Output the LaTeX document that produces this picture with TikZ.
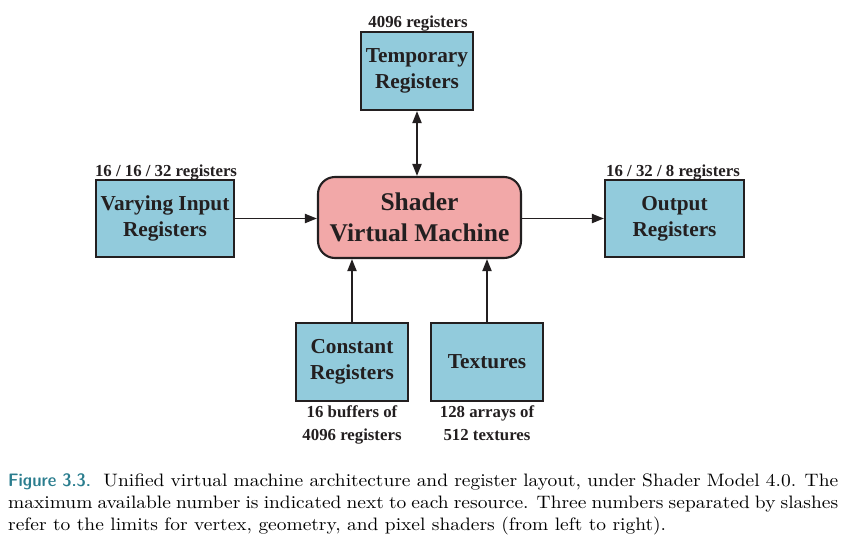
\documentclass[tikz,border=0pt]{standalone}
\usepackage{fontspec}
\setmainfont{lmroman10}[Extension=.otf,UprightFont=*-regular,BoldFont=*-bold,ItalicFont=*-italic,FakeStretch=1.08]
\newfontfamily\capsans{lmsansdemicond10}[Extension=.otf,UprightFont=*-regular,FakeStretch=1.08]
\newfontfamily\timesfont{Liberation Serif}
\usetikzlibrary{arrows.meta}
\definecolor{boxblue}{HTML}{92CBDC}
\definecolor{boxpink}{HTML}{F2A8A8}
\definecolor{figteal}{HTML}{2A7D8E}
\definecolor{inkdark}{HTML}{231F20}
\begin{document}
\begin{tikzpicture}[x=1pt,y=-1pt,
  res/.style={draw=inkdark,line width=2.1pt,fill=boxblue,minimum width=#1,minimum height=77pt,inner sep=0pt,align=center,
    font=\timesfont\bfseries\fontsize{21.3}{26}\selectfont,text=inkdark},
  res/.default=138pt,
  core/.style={draw=inkdark,line width=2.1pt,fill=boxpink,rounded corners=17pt,minimum width=203pt,minimum height=81pt,inner sep=0pt,align=center,
    font=\timesfont\bfseries\fontsize{25.5}{31}\selectfont,text=inkdark},
  note/.style={inner sep=0pt,align=center,font=\timesfont\bfseries\fontsize{16.8}{23}\selectfont,text=inkdark},
  tip/.style={-{Triangle[length=12pt,width=9pt]}},
  conn/.style={draw=inkdark,line width=1.9pt},
]
\useasboundingbox (0,0) rectangle (843,544);
\node[core] (svm) at (419.5,217.5) {Shader\\Virtual Machine};
\node[res=112pt,minimum height=78pt] (temp) at (417,71) {Temporary\\Registers};
\node[res] (vin) at (165,218.5) {Varying Input\\Registers};
\node[res=139pt] (out) at (674.5,218.5) {Output\\Registers};
\node[res=112pt,minimum height=78pt] (const) at (352,362) {Constant\\Registers};
\node[res=112pt,minimum height=78pt] (tex) at (487,362) {Textures};
\node[note,anchor=base] (ntemp) at (418,27) {4096 registers};
\node[note,anchor=base] (nvin) at (166,176) {16 / 16 / 32 registers};
\node[note,anchor=base] (nout) at (673,176) {16 / 32 / 8 registers};
\node[note,anchor=north] (nconst) at (352,405) {16 buffers of\\4096 registers};
\node[note,anchor=north] (ntex) at (487,405) {128 arrays of\\512 textures};
\draw[conn,{Triangle[length=12pt,width=9pt]}-{Triangle[length=12pt,width=9pt]}] (temp.south) -- (temp.south |- svm.north);
\draw[conn,tip] (vin.east) -- (vin.east -| svm.west);
\draw[conn,tip] (svm.east |- out.west) -- (out.west);
\draw[conn,tip] (const.north) -- (const.north |- svm.south);
\draw[conn,tip] (tex.north) -- (tex.north |- svm.south);
\node[anchor=north west,inner sep=0pt,text width=830pt,align=justify,font=\fontsize{18}{22}\selectfont] (cap) at (8,473)
{{\capsans\color{figteal}Figure 3.3.}\ \ Unified virtual machine architecture and register layout, under Shader Model 4.0. The\linebreak maximum available number is indicated next to each resource. Three numbers separated by slashes\linebreak refer to the limits for vertex, geometry, and pixel shaders (from left to right).};
\end{tikzpicture}
\end{document}
